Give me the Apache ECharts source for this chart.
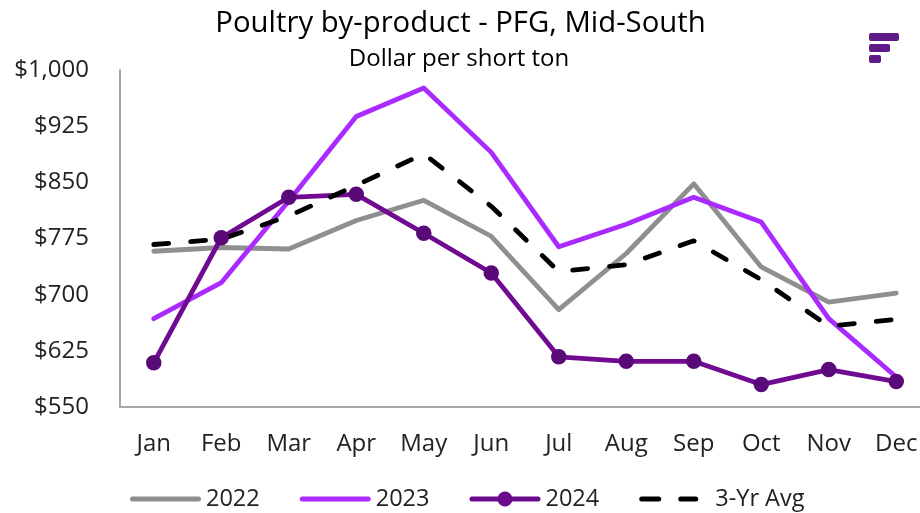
<!DOCTYPE html>
<html><head><meta charset="utf-8"><style>html,body{margin:0;background:#fff;overflow:hidden}#c{width:920px;height:513px}</style>
<script src="https://cdn.jsdelivr.net/npm/echarts@6/dist/echarts.min.js"></script></head>
<body><div id="c"></div><script>
const categories=['Jan','Feb','Mar','Apr','May','Jun','Jul','Aug','Sep','Oct','Nov','Dec'];
const s2022=[758,763,761,799,826,778,680,755,848,737,690,702];
const s2023=[668,716,825,938,976,890,764,794,830,797,668,590];
const s2024=[609,776,830,834,782,729,617,611,611,580,600,584];
const avg=[767,774,805,846,888,818,731,740,772,720,658,667];
const F='"Open Sans"';
const chart=echarts.init(document.getElementById('c'));
const corners='M0 0L0 0M71 0L71 0M0 15L0 15M71 15L71 15';
const bar=(a,b)=>`M${a+2.5} 5L${b-2.5} 5A2.5 2.5 0 0 1 ${b-2.5} 10L${a+2.5} 10A2.5 2.5 0 0 1 ${a+2.5} 5Z`;
const iconLine='path://'+corners+bar(0,71);
const iconMark='path://'+corners+bar(0,71)+'M28 7.5A7.5 7.5 0 1 1 43 7.5A7.5 7.5 0 1 1 28 7.5Z';
const iconDash='path://'+corners+bar(0,22)+bar(39,59);
const line=(name,data,color,extra)=>Object.assign({name,type:'line',data,symbol:'none',smooth:false,lineStyle:{color,width:4.8,cap:'round',join:'round'},itemStyle:{color}},extra||{});
chart.setOption({animation:false,
title:[{text:'Poultry by-product - PFG, Mid-South',left:455.5,top:4,textAlign:'center',textStyle:{fontFamily:F,fontSize:29.3,fontWeight:'normal',color:'#000'}},
{text:'Dollar per short ton',left:454,top:42,textAlign:'center',textStyle:{fontFamily:F,fontSize:24,fontWeight:'normal',color:'#000'}}],
legend:{top:487,left:130,padding:0,itemGap:40,itemWidth:71,itemHeight:15,
textStyle:{fontFamily:F,fontSize:23.5,color:'#222',padding:[0,0,0,0]},
data:[{name:'2022',icon:iconLine},{name:'2023',icon:iconLine},{name:'2024',icon:iconMark,itemStyle:{color:'#6a0a8c'}},{name:'3-Yr Avg',icon:iconDash}]},
grid:{left:120,width:810,top:70,bottom:106,outerBoundsMode:'none'},
xAxis:{type:'category',data:categories,boundaryGap:true,axisLine:{lineStyle:{color:'#a6a6a6',width:2}},axisTick:{show:false},axisLabel:{fontFamily:F,fontSize:24,color:'#222',margin:25}},
yAxis:{type:'value',min:550,max:1000,interval:75,axisLine:{show:true,lineStyle:{color:'#a6a6a6',width:2}},axisTick:{show:false},splitLine:{show:false},axisLabel:{fontFamily:F,fontSize:24,color:'#222',margin:31,formatter:v=>'$'+v.toLocaleString('en-US')}},
series:[line('2022',s2022,'#8f8f8f'),line('2023',s2023,'#a92bff'),
line('2024',s2024,'#6f0a91',{symbol:'circle',symbolSize:15.5,itemStyle:{color:'#5a0a78'}}),
line('3-Yr Avg',avg,'#000',{lineStyle:{color:'#000',width:4.8,type:[15,22],cap:'round'}})],
graphic:[{type:'group',left:869,top:33,children:[
{type:'rect',shape:{x:0,y:0,width:30,height:8,r:2},style:{fill:'#5f1a8a'}},
{type:'rect',shape:{x:0,y:11,width:21,height:8,r:2},style:{fill:'#5f1a8a'}},
{type:'rect',shape:{x:0,y:22,width:12,height:8,r:2},style:{fill:'#5f1a8a'}}]}]
});
</script></body></html>
